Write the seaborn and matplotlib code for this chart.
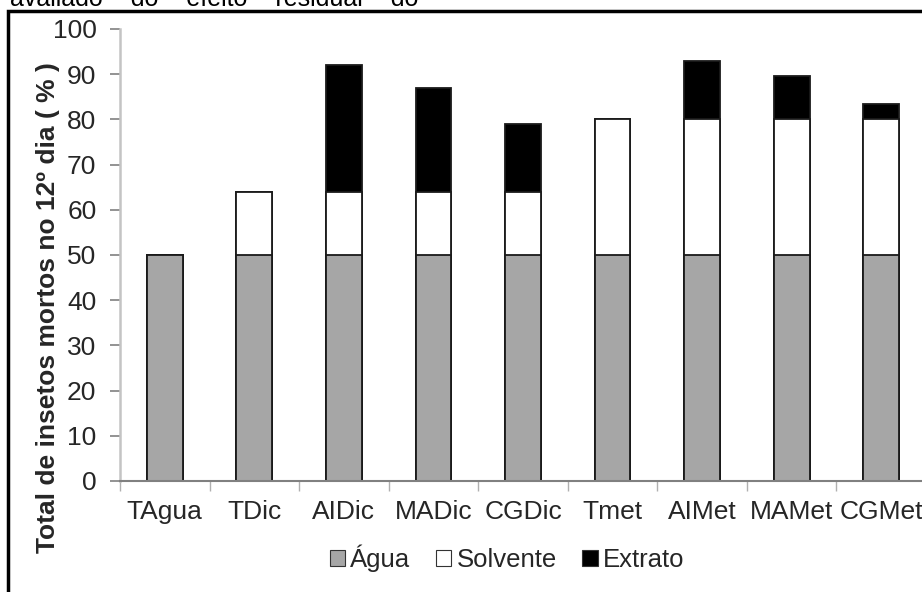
import matplotlib
matplotlib.use("Agg")
import matplotlib.pyplot as plt
import seaborn as sns
from matplotlib.patches import Patch, Rectangle
from matplotlib.ticker import FixedLocator, NullFormatter

categories = ["TAgua", "TDic", "AIDic", "MADic", "CGDic", "Tmet", "AIMet", "MAMet", "CGMet"]
agua = [50, 50, 50, 50, 50, 50, 50, 50, 50]
solvente = [0, 14, 14, 14, 14, 30, 30, 30, 30]
extrato = [0, 0, 28, 23, 15, 0, 13, 9.7, 3.3]
yticks = [0, 10, 20, 30, 40, 50, 60, 70, 80, 90, 100]
series_names = ["Água", "Solvente", "Extrato"]
series_colors = ["#a6a6a6", "#ffffff", "#000000"]

sns.set_theme(style="white")
plt.rcParams["font.family"] = ["Liberation Sans", "DejaVu Sans"]

W, H = 922, 592
fig = plt.figure(figsize=(W / 100, H / 100), dpi=100)
fig.patch.set_facecolor("white")

ax = fig.add_axes([120 / W, (H - 481) / H, (926 - 120) / W, (481 - 29) / H])

cum_solv = [a + s for a, s in zip(agua, solvente)]
cum_total = [c + e for c, e in zip(cum_solv, extrato)]

for heights, col in [(cum_total, series_colors[2]), (cum_solv, series_colors[1]), (agua, series_colors[0])]:
    sns.barplot(x=categories, y=heights, color=col, saturation=1, width=0.4,
                edgecolor="#1a1a1a", linewidth=1.3, ax=ax, errorbar=None)

ax.set_xlim(-0.5, len(categories) - 0.5)
ax.set_ylim(0, 100)
ax.set_yticks(yticks)
ax.set_yticklabels([str(v) for v in yticks], fontsize=19)
ax.tick_params(axis="y", which="major", left=True, length=7, width=1.2, color="#808080", pad=10)
ax.tick_params(axis="x", which="major", bottom=False, labelsize=19, pad=8)
ax.xaxis.set_minor_locator(FixedLocator([i - 0.5 for i in range(len(categories) + 1)]))
ax.xaxis.set_minor_formatter(NullFormatter())
ax.tick_params(axis="x", which="minor", bottom=True, length=7, width=1.0, color="#b0b0b0")

for side in ["top", "right"]:
    ax.spines[side].set_visible(False)
ax.spines["left"].set_color("#c4c4c4")
ax.spines["left"].set_linewidth(1.8)
ax.spines["bottom"].set_color("#808080")
ax.spines["bottom"].set_linewidth(1.5)
ax.grid(False)

ax.set_ylabel("Total de insetos mortos no 12º dia ( % )", fontsize=19, fontweight="bold")
ax.yaxis.set_label_coords((60 - 120) / 806, (481 - 308) / 452)

handles = [Patch(facecolor=c, edgecolor="#333333", linewidth=0.8, label=n)
           for n, c in zip(series_names, series_colors)]
fig.legend(handles=handles, loc="center", bbox_to_anchor=(507 / W, (H - 558) / H), ncol=3,
           frameon=False, fontsize=18.5, handlelength=0.6, handleheight=0.6,
           handletextpad=0.2, columnspacing=1.0)

# outer frame (partially cropped in the reference)
fig.patches.append(Rectangle((8 / W, -0.05), 1.1, (H - 11) / H + 0.05, transform=fig.transFigure,
                             fill=False, edgecolor="black", linewidth=2.5))
# cropped caption line at the very top
fig.text(10 / W, 1 - 6 / H, "avaliado    do    efeito    residual    do", fontsize=18,
         ha="left", va="baseline", color="black")

fig.savefig("out.png", dpi=100)
